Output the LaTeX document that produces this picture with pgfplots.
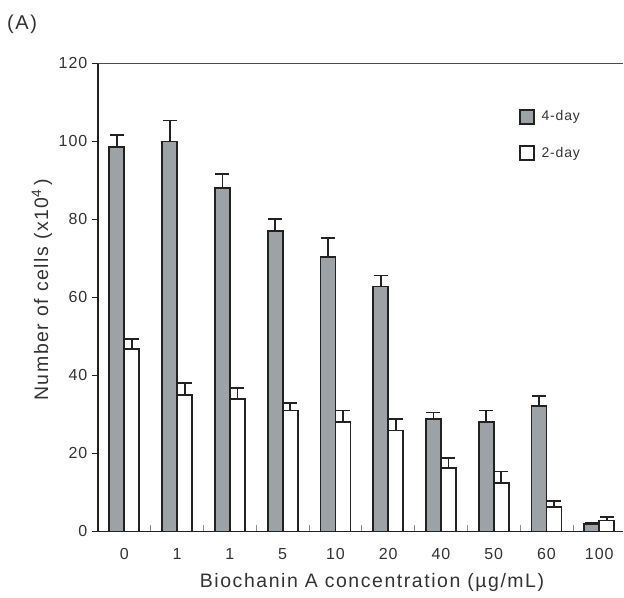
\documentclass[border=0pt]{standalone}
\usepackage{pgfplots}
\pgfplotsset{compat=1.18}
\usepackage{pgfplotstable}
\usepackage{fontspec}
\setmainfont{Liberation Sans}[LetterSpace=6]
\newfontfamily\labfont{Liberation Sans}[LetterSpace=8]
\definecolor{barg}{HTML}{9DA2A7}
\definecolor{txt}{HTML}{333333}
\definecolor{edge}{HTML}{222222}

\pgfplotstableread{
x y e
0 98.5 3.1
1 100.0 5.4
2 88.0 3.6
3 77.0 3.2
4 70.3 5.0
5 62.8 2.8
6 28.9 1.6
7 28.0 3.0
8 32.2 2.5
9 2.0 0.2
}\fourday

\pgfplotstableread{
x y e
0 46.8 2.5
1 35.1 2.9
2 33.9 2.8
3 31.0 2.0
4 28.0 3.0
5 25.9 3.0
6 16.3 2.5
7 12.5 2.9
8 6.2 1.7
9 2.8 1.0
}\twoday

\begin{document}
\begin{tikzpicture}
\useasboundingbox (0,0) rectangle (468pt,448.5pt);
\node[font=\labfont\fontsize{15pt}{18pt}\selectfont, text=txt, anchor=center] at (16.5pt,430pt) {(A)};
\begin{axis}[
  scale only axis,
  width=393.75pt, height=351pt,
  at={(73.5pt,49.9pt)}, anchor=south west,
  xmin=-0.5, xmax=9.45, ymin=0, ymax=120,
  clip=false,
  axis lines=left,
  axis line style={-, line width=1.4pt, draw=edge},
  ybar=0pt, bar width=11.25pt,
  ytick={0,20,...,120},
  ytick align=outside,
  xtick align=inside,
  major tick length=4.5pt,
  ytick style={line width=0.8pt, draw=edge},
  xtick={0.5,1.5,...,8.5},
  xticklabels={},
  xtick style={line width=0.5pt, draw=black!45},
  extra x ticks={0,...,9},
  extra x tick labels={0,1,1,5,10,20,40,50,60,100},
  extra x tick style={major tick length=0pt,
    xticklabel style={anchor=center, yshift=-17pt}},
  tick label style={font=\fontsize{12pt}{14pt}\selectfont, text=txt},
  /pgf/number format/assume math mode=true,
  yticklabel style={anchor=east},
  xlabel={Biochanin A concentration (\textmu g/mL)},
  ylabel={Number of cells (x10\textsuperscript{4}\,)},
  label style={font=\labfont\fontsize{14.6pt}{17pt}\selectfont, text=txt},
  xlabel style={at={(axis description cs:0.522,-0.110)}, anchor=center},
  ylabel style={at={(axis description cs:-0.1067,0.516)}, anchor=center},
  legend style={draw=none, fill=none, at={(0.802,0.905)}, anchor=north west,
    inner sep=0pt, row sep=14pt, column sep=3pt,
    font=\fontsize{10.5pt}{12pt}\selectfont, text=txt,
    nodes={inner sep=2pt}},
  legend cell align=left,
  legend image code/.code={\draw[#1, line width=1.2pt] (0pt,-5.25pt) rectangle (10.5pt,5.25pt);},
]
\addplot[fill=barg, draw=edge, line width=1.4pt,
  error bars/.cd, y dir=plus, y explicit,
  error bar style={line width=1.3pt, draw=edge, solid},
  error mark options={rotate=90, line width=1.3pt, mark size=5.25pt, draw=edge}]
  table[x=x, y=y, y error=e] {\fourday};
\addplot[fill=white, draw=edge, line width=1.4pt,
  error bars/.cd, y dir=plus, y explicit,
  error bar style={line width=1.3pt, draw=edge, solid},
  error mark options={rotate=90, line width=1.3pt, mark size=5.25pt, draw=edge}]
  table[x=x, y=y, y error=e] {\twoday};
\legend{4-day, 2-day}
\draw[line width=0.8pt, draw=black!70] (rel axis cs:0,1) -- (rel axis cs:1,1);
\end{axis}
\end{tikzpicture}
\end{document}
